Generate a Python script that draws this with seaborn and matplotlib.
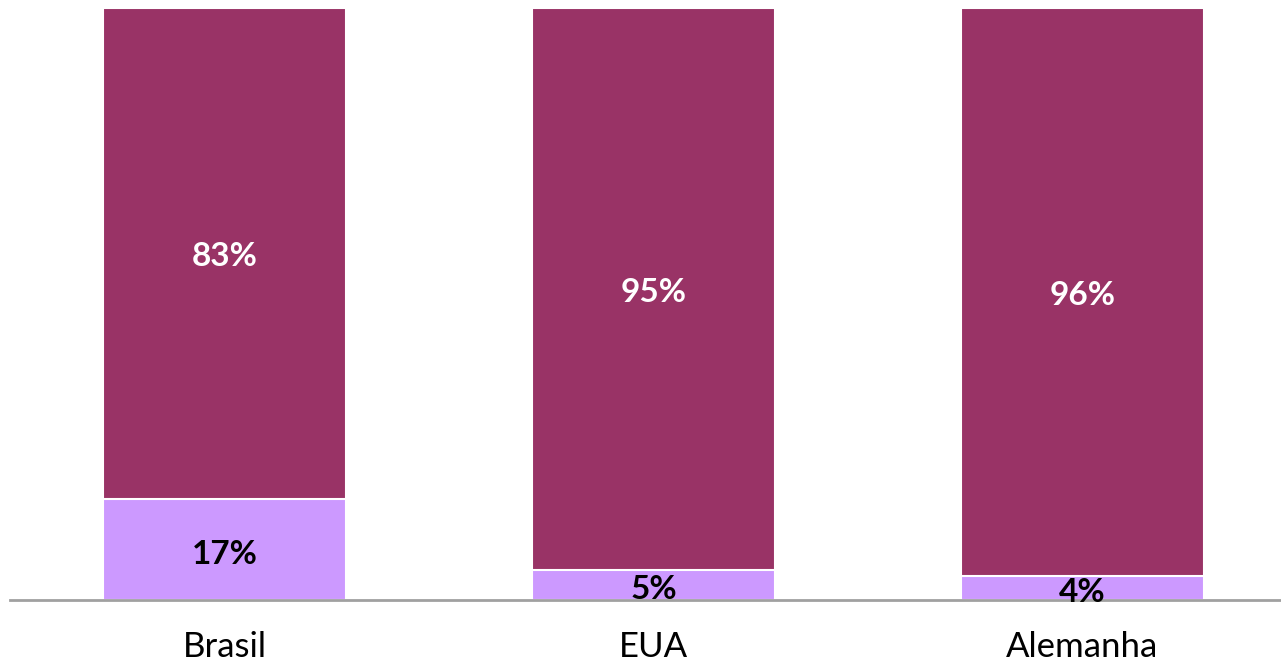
import seaborn as sns
import matplotlib.pyplot as plt
import pandas as pd

countries = ["Brasil", "EUA", "Alemanha"]
lower = [17, 5, 4]
upper = [83, 95, 96]

DARK = "#993366"
LIGHT = "#CC99FF"

sns.set_theme(style="white")
plt.rcParams["font.family"] = ["Lato", "DejaVu Sans"]

df = pd.DataFrame({"country": countries, "lower": lower, "upper": upper})
df["total"] = df["lower"] + df["upper"]

fig = plt.figure(figsize=(12.81, 6.64), dpi=100)
ax = fig.add_axes([10 / 1281, 64 / 664, 1 - 10 / 1281, 592 / 664])

# stacked: full bar in dark, lower part drawn on top in light
sns.barplot(data=df, x="country", y="total", color=DARK, width=0.566,
            edgecolor="white", linewidth=1.5, saturation=1, ax=ax)
sns.barplot(data=df, x="country", y="lower", color=LIGHT, width=0.566,
            edgecolor="white", linewidth=1.5, saturation=1, ax=ax)

for i, (lo, up) in enumerate(zip(lower, upper)):
    ax.text(i, lo + up / 2 - 0.5, f"{up}%", ha="center", va="center",
            color="white", fontsize=24, fontweight="bold")
    ax.text(i, lo / 2 - 0.8, f"{lo}%", ha="center", va="center",
            color="black", fontsize=24, fontweight="bold")

ax.set_xlim(-0.5, 2.463)
ax.set_ylim(0, 100)
ax.set_xlabel("")
ax.set_ylabel("")
ax.set_yticks([])
ax.tick_params(axis="x", length=0, labelsize=25, pad=22, colors="black")
for s in ["top", "left", "right"]:
    ax.spines[s].set_visible(False)
ax.spines["bottom"].set_color("#A0A0A0")
ax.spines["bottom"].set_linewidth(2)

plt.savefig("out.png", dpi=100)
plt.close()
